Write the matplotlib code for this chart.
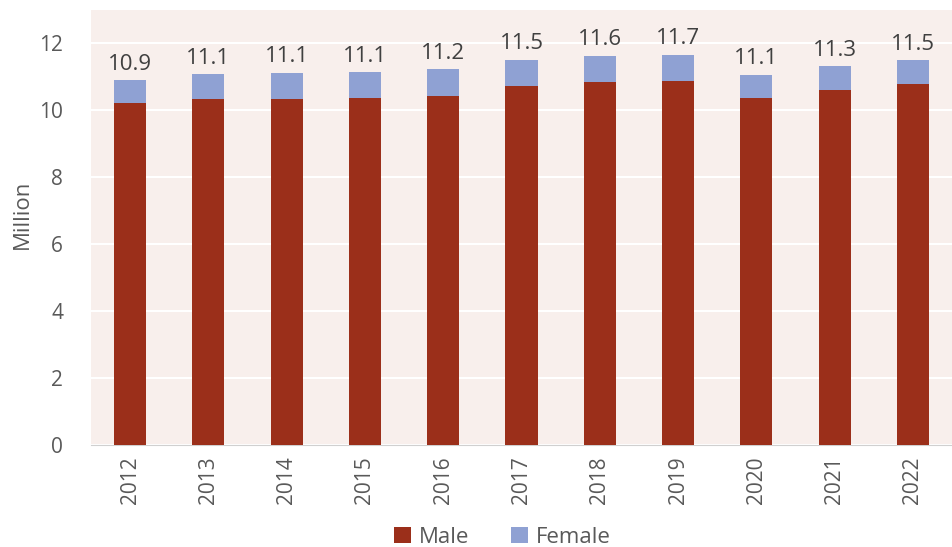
import matplotlib
matplotlib.use("Agg")
import matplotlib.pyplot as plt
import numpy as np

years = ["2012", "2013", "2014", "2015", "2016", "2017", "2018", "2019", "2020", "2021", "2022"]
male = [10.21, 10.33, 10.33, 10.36, 10.42, 10.72, 10.86, 10.89, 10.38, 10.61, 10.79]
female = [0.69, 0.75, 0.79, 0.78, 0.81, 0.79, 0.78, 0.78, 0.69, 0.71, 0.71]
total_labels = ["10.9", "11.1", "11.1", "11.1", "11.2", "11.5", "11.6", "11.7", "11.1", "11.3", "11.5"]

plt.rcParams['font.family'] = ['Open Sans', 'DejaVu Sans']
txt = '#595959'

fig = plt.figure(figsize=(9.52, 5.47), dpi=100)
ax = fig.add_axes([0.0956, 0.1865, 0.9044, 0.7952])
ax.set_facecolor('#F8EFEC')

x = np.arange(len(years))
w = 0.41
ax.bar(x, male, w, color='#9B2F1A', label='Male', zorder=3)
ax.bar(x, female, w, bottom=male, color='#8FA1D3', label='Female', zorder=3)

totals = np.array(male) + np.array(female)
for xi, t, lab in zip(x, totals, total_labels):
    ax.annotate(lab, (xi, t), xytext=(0, 4), textcoords='offset points',
                ha='center', va='bottom', fontsize=16, color='#404040')

ax.set_xlim(-0.5, len(years) - 0.5)
ax.set_ylim(0, 13)
ax.set_yticks(range(0, 13, 2))
ax.yaxis.grid(True, color='white', linewidth=1.5, zorder=0)
ax.set_axisbelow(True)
ax.set_xticks(x)
ax.set_xticklabels(years, rotation=90, fontsize=15, color=txt)
ax.tick_params(axis='y', labelsize=15, labelcolor=txt, length=0, pad=20)
ax.tick_params(axis='x', length=0, pad=8)
for s in ['top', 'right', 'left']:
    ax.spines[s].set_visible(False)
ax.spines['bottom'].set_color('#D0D0D0')
ax.set_ylabel('Million', fontsize=16, color=txt)
ax.yaxis.set_label_coords(-0.068, 0.53)

ax.legend(loc='center', bbox_to_anchor=(0.478, -0.212), ncol=2, frameon=False,
          fontsize=16, handlelength=0.75, handleheight=0.75, columnspacing=1.9, handletextpad=0.35,
          labelcolor=txt, borderaxespad=0)

fig.savefig('out.png', dpi=100)
